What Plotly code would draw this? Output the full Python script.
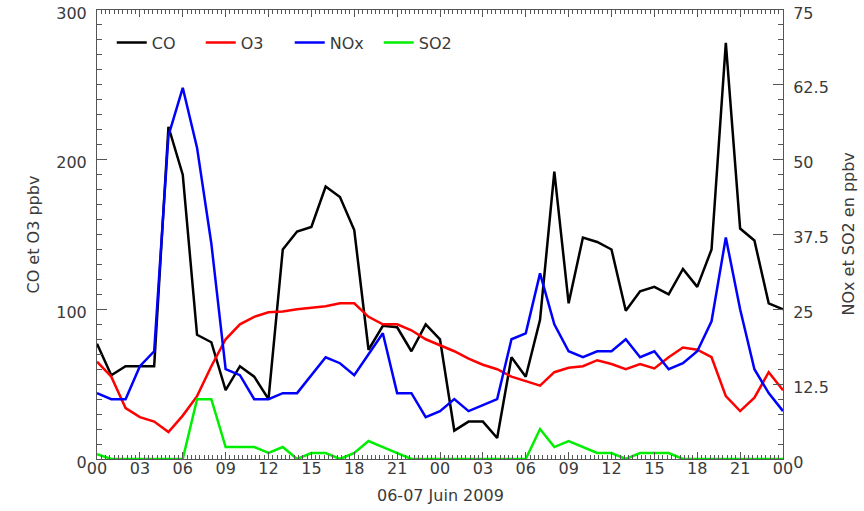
import plotly.graph_objects as go

hours = list(range(49))
co = [77, 56, 62, 62, 62, 222, 190, 83, 78, 46, 62, 55, 40, 140, 152, 155, 182, 175, 153, 73,
      89, 88, 72, 90, 80, 19, 25, 25, 14, 68, 55, 93, 192, 104, 148, 145, 140, 99, 112, 115,
      110, 127, 115, 140, 278, 154, 146, 104, 100]
o3 = [65, 55, 34, 28, 25, 18, 29, 42, 62, 80, 90, 95, 98, 98.5, 100, 101, 102, 104, 104, 95,
      90, 90, 86, 80, 76, 72, 67, 63, 60, 55, 52, 49, 58, 61, 62, 66, 63.5, 60, 63.5, 60.5,
      68, 74.5, 73, 68, 42, 32, 41, 58, 46]
nox = [11, 10, 10, 15.5, 18, 54, 62, 52, 36, 15, 14, 10, 10, 11, 11, 14, 17, 16, 14, 17.5,
       21, 11, 11, 7, 8, 10, 8, 9, 10, 20, 21, 31, 22.5, 18, 17, 18, 18, 20, 17, 18,
       15, 16, 18, 23, 37, 25, 15, 11, 8]
so2 = [0.8, 0, 0, 0, 0, 0, 0, 10, 10, 2, 2, 2, 1, 2, 0, 1, 1, 0, 1, 3,
       2, 1, 0, 0, 0, 0, 0, 0, 0, 0, 0, 5, 2, 3, 2, 1, 1, 0, 1, 1,
       1, 0, 0, 0, 0, 0, 0, 0, 0]

x_tickvals = list(range(0, 49, 3))
x_ticktext = ["00", "03", "06", "09", "12", "15", "18", "21", "00", "03", "06", "09",
              "12", "15", "18", "21", "00"]
y_tickvals = [0, 100, 200, 300]
y2_tickvals = [0, 12.5, 25, 37.5, 50, 62.5, 75]
y2_ticktext = ["0", "12.5", "25", "37.5", "50", "62.5", "75"]

FONT = "DejaVu Sans"
TXT = "#3a3a3a"
AX = "#555555"

fig = go.Figure()
fig.add_trace(go.Scatter(x=hours, y=co, name="CO", mode="lines",
                         line=dict(color="black", width=2.5)))
fig.add_trace(go.Scatter(x=hours, y=o3, name="O3", mode="lines",
                         line=dict(color="#ff0000", width=2.5)))
fig.add_trace(go.Scatter(x=hours, y=nox, name="NOx", mode="lines", yaxis="y2",
                         line=dict(color="#0000ff", width=2.5)))
fig.add_trace(go.Scatter(x=hours, y=so2, name="SO2", mode="lines", yaxis="y2",
                         line=dict(color="#00ee00", width=2.5)))

axis_common = dict(showgrid=False, zeroline=False, showline=True, linecolor=AX,
                   linewidth=1, ticks="inside", tickcolor=AX, automargin=False,
                   tickfont=dict(family=FONT, size=16, color=TXT))

fig.update_layout(
    width=864, height=511,
    margin=dict(l=97, r=81, t=10, b=52),
    paper_bgcolor="white", plot_bgcolor="white",
    font=dict(family=FONT, size=16, color=TXT),
    showlegend=True,
    legend=dict(orientation="h", x=0.0215, y=0.965, xanchor="left", yanchor="top",
                bgcolor="rgba(0,0,0,0)", font=dict(family=FONT, size=16, color=TXT),
                entrywidth=44, entrywidthmode="pixels", itemwidth=30,
                traceorder="normal"),
    xaxis=dict(range=[0, 48], tickvals=x_tickvals, ticktext=x_ticktext, ticklen=7,
               ticklabelstandoff=-5,
               minor=dict(dtick=0.3, ticklen=4, ticks="inside", tickcolor=AX, showgrid=False),
               **axis_common),
    xaxis2=dict(range=[0, 48], overlaying="x", side="top", tickvals=x_tickvals,
                showticklabels=False, ticklen=7,
                minor=dict(dtick=0.3, ticklen=4, ticks="inside", tickcolor=AX, showgrid=False),
                **axis_common),
    yaxis=dict(range=[0, 300], tickvals=y_tickvals, ticklen=10, ticklabelstandoff=6,
               ticklabelshift=3,
               minor=dict(dtick=10, ticklen=5, ticks="inside", tickcolor=AX, showgrid=False),
               **axis_common),
    yaxis2=dict(range=[0, 75], tickvals=y2_tickvals, ticktext=y2_ticktext, ticklen=10,
                overlaying="y", side="right", ticklabelstandoff=6, ticklabelshift=3,
                minor=dict(dtick=2.5, ticklen=5, ticks="inside", tickcolor=AX, showgrid=False),
                **axis_common),
    annotations=[
        dict(text="CO et O3 ppbv", xref="paper", yref="paper", x=0, y=0.5, xshift=-64,
             xanchor="center", yanchor="middle",
             textangle=-90, showarrow=False, font=dict(family=FONT, size=16, color=TXT)),
        dict(text="NOx et SO2 en ppbv", xref="paper", yref="paper", x=1, y=0.5, xshift=65,
             xanchor="center", yanchor="middle",
             textangle=-90, showarrow=False, font=dict(family=FONT, size=16, color=TXT)),
        dict(text="06-07 Juin 2009", xref="paper", yref="paper", x=0.5, y=0,
             yshift=-36, yanchor="middle", showarrow=False,
             font=dict(family=FONT, size=16, color=TXT)),
    ],
)
# invisible trace so that the mirrored top axis renders
fig.add_trace(go.Scatter(x=[0, 48], y=[0, 0], xaxis="x2", mode="lines",
                         line=dict(width=0), showlegend=False, hoverinfo="skip"))

fig.write_html("out.html")
